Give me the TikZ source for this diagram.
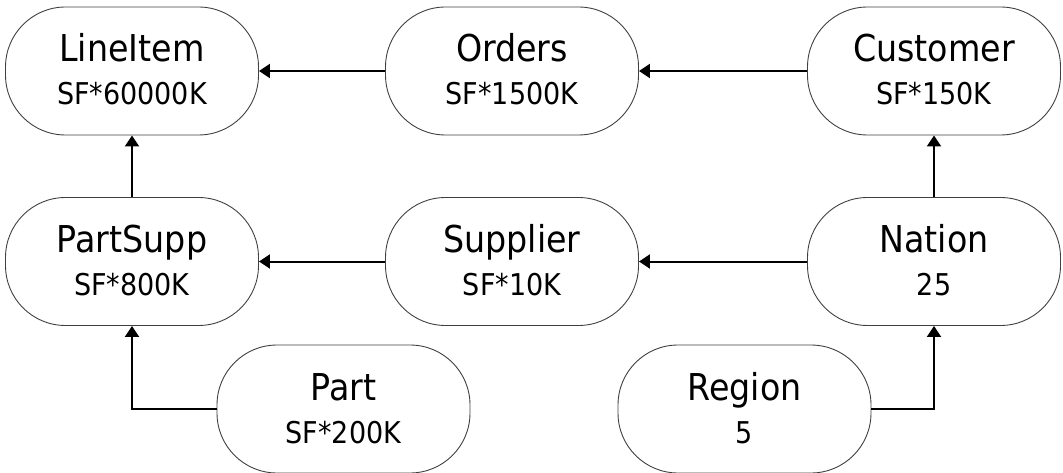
\documentclass[tikz,border=0pt]{standalone}
\usepackage{fontspec}
\setmainfont{DejaVu Sans}[FakeStretch=0.9]
\usetikzlibrary{arrows.meta}
\begin{document}
\begin{tikzpicture}[x=1pt,y=-1pt,
 entity/.style={draw=black!75, line width=0.9pt, rounded corners=60pt, minimum width=253pt, minimum height=128pt, inner sep=0pt},
 ttl/.style={anchor=base, inner sep=0pt, font=\fontsize{37}{40}\selectfont},
 sub/.style={anchor=base, inner sep=0pt, font=\fontsize{30}{34}\selectfont},
 link/.style={line width=2pt, -{Triangle[length=11pt,width=14pt]}}]
\useasboundingbox (0,0) rectangle (1063,473);
% entities
\node[entity] (li) at (132,71) {};
\node[entity] (or) at (512,71) {};
\node[entity] (cu) at (934,71) {};
\node[entity] (ps) at (132,261.5) {};
\node[entity] (su) at (512,261.5) {};
\node[entity] (na) at (934,261.5) {};
\node[entity] (pa) at (343.5,409) {};
\node[entity] (re) at (744.5,409) {};
% texts
\node[ttl] (liT) at ([yshift=9pt]li.center) {LineItem};
\node[sub] (liS) at ([yshift=-34pt]li.center) {SF*60000K};
\node[ttl] (orT) at ([yshift=9pt]or.center) {Orders};
\node[sub] (orS) at ([yshift=-34pt]or.center) {SF*1500K};
\node[ttl] (cuT) at ([yshift=9pt]cu.center) {Customer};
\node[sub] (cuS) at ([yshift=-34pt]cu.center) {SF*150K};
\node[ttl] (psT) at ([yshift=9pt]ps.center) {PartSupp};
\node[sub] (psS) at ([yshift=-34pt]ps.center) {SF*800K};
\node[ttl] (suT) at ([yshift=9pt]su.center) {Supplier};
\node[sub] (suS) at ([yshift=-34pt]su.center) {SF*10K};
\node[ttl] (naT) at ([yshift=9pt]na.center) {Nation};
\node[sub] (naS) at ([yshift=-34pt]na.center) {25};
\node[ttl] (paT) at ([yshift=9pt]pa.center) {Part};
\node[sub] (paS) at ([yshift=-34pt]pa.center) {SF*200K};
\node[ttl] (reT) at ([yshift=9pt]re.center) {Region};
\node[sub] (reS) at ([yshift=-34pt]re.center) {5};
% connectors
\draw[link] (or.west) -- (li.east);
\draw[link] (cu.west) -- (or.east);
\draw[link] (ps.north) -- (li.south);
\draw[link] (su.west) -- (ps.east);
\draw[link] (na.west) -- (su.east);
\draw[link] (na.north) -- (cu.south);
\draw[link] (pa.west) -| (ps.south);
\draw[link] (re.east) -| (na.south);
\end{tikzpicture}
\end{document}
